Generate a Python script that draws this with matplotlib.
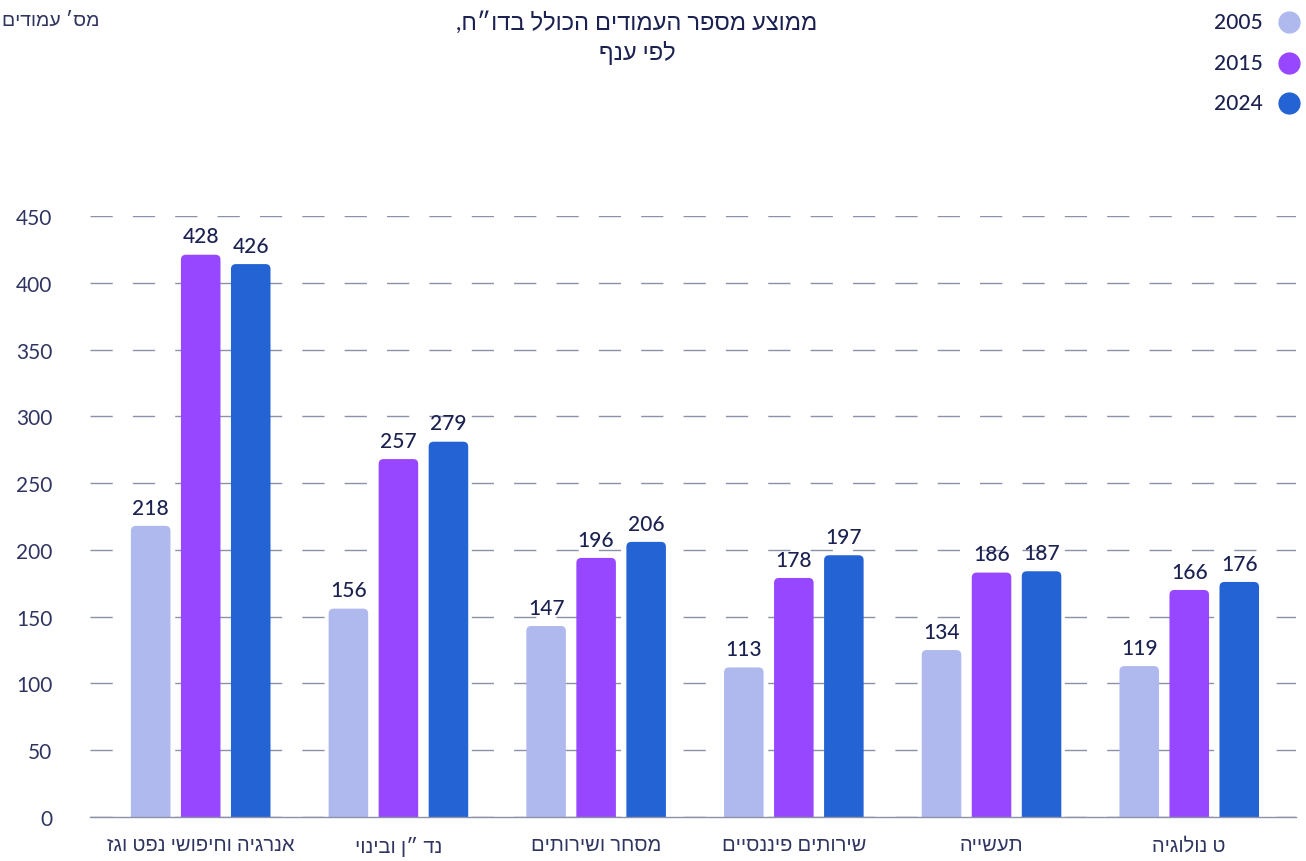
"""
Average report page count by sector (2005 / 2015 / 2024), grouped bar chart.
Hebrew text is reversed for display since matplotlib has no bidi support.
"""

import matplotlib
matplotlib.use("Agg")  # headless
import matplotlib.pyplot as plt
import numpy as np
from matplotlib.lines import Line2D
from matplotlib.patches import FancyBboxPatch

# --- data -----------------------------------------------------------------
categories = [
    "אנרגיה וחיפושי נפט וגז",
    "נד ״ן ובינוי",
    "מסחר ושירותים",
    "שירותים פיננסיים",
    "תעשייה",
    "ט נולוגיה",
]
years = ["2005", "2015", "2024"]

# bar heights as drawn in the reference
heights_2005 = [218, 156, 143, 112, 125, 113]
heights_2015 = [421, 268, 194, 179, 183, 170]
heights_2024 = [414, 281, 206, 196, 184, 176]

# value labels as printed above the bars
labels_2005 = [218, 156, 147, 113, 134, 119]
labels_2015 = [428, 257, 196, 178, 186, 166]
labels_2024 = [426, 279, 206, 197, 187, 176]

y_ticks = [0, 50, 100, 150, 200, 250, 300, 350, 400, 450]

title = "ממוצע מספר העמודים הכולל בדו״ח,\nלפי ענף"
y_title = "מס׳ עמודים"

# --- style ----------------------------------------------------------------
COLORS = ["#AFB9EE", "#9747FF", "#2463D3"]
NAVY = "#1B2150"
TICK_COL = "#2F3560"
GRID_COL = "#8C90A8"
FONTS = ["Lato", "Liberation Sans", "DejaVu Sans"]

plt.rcParams["font.family"] = FONTS

W, H = 1306, 862


def rtl(s: str) -> str:
    """Reverse each line so Hebrew reads right-to-left."""
    return "\n".join(line[::-1] for line in s.split("\n"))


fig = plt.figure(figsize=(W / 100, H / 100), dpi=100)
ax = fig.add_axes([90 / W, (H - 818) / H, (1296 - 90) / W, (818 - 217) / H])

x = np.arange(len(categories))
step = 0.253
width = 0.2
series = [
    (heights_2005, labels_2005),
    (heights_2015, labels_2015),
    (heights_2024, labels_2024),
]

ax.set_xlim(-0.56, 5.54)
ax.set_ylim(0, 450)

# pixel -> data scale for round corners
x_per_px = (5.54 + 0.56) / (1296 - 90)
y_per_px = 450 / (818 - 217)
asp = y_per_px / x_per_px
r = 5 * x_per_px

for i, (hs, labs) in enumerate(series):
    bars = ax.bar(x + (i - 1) * step, hs, width, color=COLORS[i], zorder=2)
    for rect, lab in zip(bars, labs):
        bx, bw, bh = rect.get_x(), rect.get_width(), rect.get_height()
        rect.set_visible(False)
        ext = r * asp
        patch = FancyBboxPatch(
            (bx, -ext), bw, bh + ext,
            boxstyle=f"round,pad=0,rounding_size={r}",
            mutation_aspect=asp,
            facecolor=COLORS[i], edgecolor="none", zorder=2,
        )
        ax.add_patch(patch)
        ax.annotate(
            str(lab), (bx + bw / 2, bh), xytext=(0, 6), textcoords="offset points",
            ha="center", va="bottom", fontsize=15, fontweight="medium",
            color=NAVY, zorder=3,
        )

# grid and axes
ax.set_yticks(y_ticks)
ax.yaxis.grid(True, color=GRID_COL, linewidth=1, linestyle=(0, (16, 14.5)), zorder=0)
ax.set_axisbelow(True)
for side in ["top", "right", "left"]:
    ax.spines[side].set_visible(False)
ax.spines["bottom"].set_color(GRID_COL)
ax.spines["bottom"].set_linewidth(1)
ax.spines["bottom"].set_zorder(4)

ax.tick_params(axis="y", length=0, pad=27, labelsize=15, labelcolor=TICK_COL)
ax.set_xticks(x)
ax.set_xticklabels([rtl(c) for c in categories])
ax.tick_params(axis="x", length=0, pad=14, labelsize=14.5, labelcolor=TICK_COL)

# titles
fig.text(637 / W, 1 - 11 / H, rtl(title), ha="center", va="top",
         fontsize=17, color=NAVY, linespacing=1.4)
fig.text(100 / W, 1 - 21 / H, rtl(y_title), ha="right", va="center",
         fontsize=14, color=TICK_COL)

# legend (circle markers on the right)
for i, yr in enumerate(years):
    yy = 1 - (23 + i * 40.5) / H
    fig.text(1263 / W, yy, yr, ha="right", va="center", fontsize=15,
             fontweight="medium", color=NAVY)
    fig.add_artist(Line2D([1289 / W], [yy], marker="o", markersize=15,
                          color=COLORS[i], linestyle="none",
                          transform=fig.transFigure))

fig.savefig("out.png", dpi=100)
